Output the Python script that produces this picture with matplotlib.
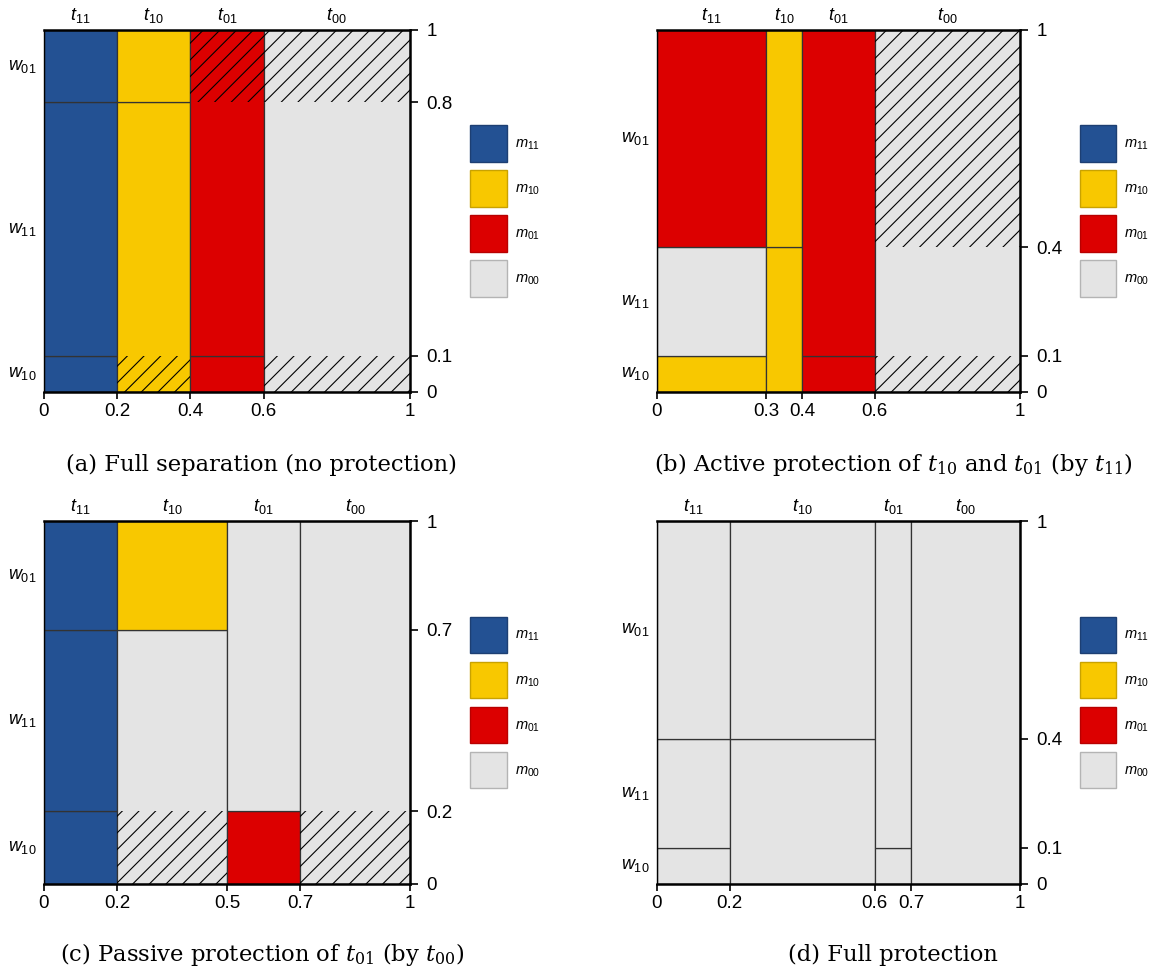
"""
Message/world partition diagrams for four protection scenarios
"""
import matplotlib
matplotlib.use("Agg")
import matplotlib.pyplot as plt
from matplotlib.patches import Patch
from matplotlib.transforms import blended_transform_factory

plt.rcParams["font.family"] = ["Liberation Sans", "DejaVu Sans"]
plt.rcParams["mathtext.fontset"] = "custom"
plt.rcParams["mathtext.it"] = "Liberation Sans:italic"
plt.rcParams["mathtext.rm"] = "Liberation Sans"
plt.rcParams["hatch.linewidth"] = 0.8

# message colours
COLORS = {"11": "#235193", "10": "#f8c800", "01": "#dc0000", "00": "#e4e4e4"}
EDGES = {"11": "#1d3f73", "10": "#c9a200", "01": "#b80000", "00": "#b4b4b4"}
TYPES = ["11", "10", "01", "00"]
WORLDS = ["10", "11", "01"]  # bottom to top

# (a) full separation
A_X = [0, 0.2, 0.4, 0.6, 1]
A_Y = [0, 0.1, 0.8, 1]
A_CELLS = [(0, 0, 0.1, "11"), (0, 0.1, 0.8, "11"), (0, 0.8, 1, "11"),
           (1, 0, 0.8, "10"), (1, 0.8, 1, "10"),
           (2, 0, 0.1, "01"), (2, 0.1, 1, "01"),
           (3, 0, 1, "00")]
A_HATCH = [(1, 0, 0.1), (2, 0.8, 1), (3, 0, 0.1), (3, 0.8, 1)]

# (b) active protection
B_X = [0, 0.3, 0.4, 0.6, 1]
B_Y = [0, 0.1, 0.4, 1]
B_CELLS = [(0, 0, 0.1, "10"), (0, 0.1, 0.4, "00"), (0, 0.4, 1, "01"),
           (1, 0, 0.4, "10"), (1, 0.4, 1, "10"),
           (2, 0, 0.1, "01"), (2, 0.1, 1, "01"),
           (3, 0, 1, "00")]
B_HATCH = [(3, 0, 0.1), (3, 0.4, 1)]

# (c) passive protection
C_X = [0, 0.2, 0.5, 0.7, 1]
C_Y = [0, 0.2, 0.7, 1]
C_CELLS = [(0, 0, 0.2, "11"), (0, 0.2, 0.7, "11"), (0, 0.7, 1, "11"),
           (1, 0, 0.7, "00"), (1, 0.7, 1, "10"),
           (2, 0, 0.2, "01"), (2, 0.2, 1, "00"),
           (3, 0, 1, "00")]
C_HATCH = [(1, 0, 0.2), (3, 0, 0.2)]

# (d) full protection
D_X = [0, 0.2, 0.6, 0.7, 1]
D_Y = [0, 0.1, 0.4, 1]
D_CELLS = [(0, 0, 0.1, "00"), (0, 0.1, 0.4, "00"), (0, 0.4, 1, "00"),
           (1, 0, 0.4, "00"), (1, 0.4, 1, "00"),
           (2, 0, 0.1, "00"), (2, 0.1, 1, "00"),
           (3, 0, 1, "00")]
D_HATCH = []

CAPTIONS = [
    "(a) Full separation (no protection)",
    "(b) Active protection of $t_{10}$ and $t_{01}$ (by $t_{11}$)",
    "(c) Passive protection of $t_{01}$ (by $t_{00}$)",
    "(d) Full protection",
]


def draw_panel(ax, xb, yb, cells, hatches):
    """
    Draws one partition panel with its labels and legend
    """
    for col, y0, y1, msg in cells:
        ax.bar(xb[col], y1 - y0, width=xb[col + 1] - xb[col], bottom=y0,
               align="edge", color=COLORS[msg], edgecolor="#333333",
               linewidth=0.9, zorder=1)
    for col, y0, y1 in hatches:
        ax.bar(xb[col], y1 - y0, width=xb[col + 1] - xb[col], bottom=y0,
               align="edge", color="none", edgecolor="black", linewidth=0,
               hatch="//", zorder=2)
    ax.set_xlim(0, 1)
    ax.set_ylim(0, 1)
    # axes ticks
    ax.set_xticks(xb)
    ax.set_xticklabels([f"{v:g}" for v in xb])
    ax.yaxis.tick_right()
    ax.set_yticks(yb)
    ax.set_yticklabels([f"{v:g}" for v in yb])
    ax.tick_params(axis="x", length=5, width=1.2, labelsize=13.5, pad=3)
    ax.tick_params(axis="y", length=6, width=1.2, labelsize=13.5, pad=6)
    for side in ["top", "bottom", "right"]:
        ax.spines[side].set_linewidth(1.8)
    ax.spines["left"].set_linewidth(1.0)
    for sp in ax.spines.values():
        sp.set_zorder(3)
    # column and row names
    top = blended_transform_factory(ax.transData, ax.transAxes)
    for i, t in enumerate(TYPES):
        ax.text((xb[i] + xb[i + 1]) / 2, 1.015, f"$t_{{{t}}}$", transform=top,
                ha="center", va="bottom", fontsize=13)
    left = blended_transform_factory(ax.transAxes, ax.transData)
    for i, w in enumerate(WORLDS):
        ax.text(-0.02, (yb[i] + yb[i + 1]) / 2, f"$w_{{{w}}}$", transform=left,
                ha="right", va="center", fontsize=13)
    handles = [Patch(facecolor=COLORS[m], edgecolor=EDGES[m], linewidth=1.0)
               for m in TYPES]
    ax.legend(handles, [f"$m_{{{m}}}$" for m in TYPES], loc="center left",
              bbox_to_anchor=(1.165, 0.5), frameon=False, fontsize=10.5,
              handlelength=2.5, handleheight=3.45, labelspacing=0.6,
              handletextpad=0.55, borderpad=0, borderaxespad=0)


fig = plt.figure(figsize=(11.63, 9.77), dpi=100)
positions = [
    [0.0378, 0.5988, 0.3147, 0.3705],
    [0.5649, 0.5988, 0.3121, 0.3705],
    [0.0378, 0.0952, 0.3147, 0.3715],
    [0.5649, 0.0952, 0.3121, 0.3715],
]
panels = [
    (A_X, A_Y, A_CELLS, A_HATCH),
    (B_X, B_Y, B_CELLS, B_HATCH),
    (C_X, C_Y, C_CELLS, C_HATCH),
    (D_X, D_Y, D_CELLS, D_HATCH),
]
caption_xy = [(0.225, 1 - 465 / 977), (0.768, 1 - 465 / 977),
              (0.225, 1 - 955 / 977), (0.768, 1 - 955 / 977)]
for pos, data, cap, cxy in zip(positions, panels, CAPTIONS, caption_xy):
    ax = fig.add_axes(pos)
    draw_panel(ax, *data)
    fig.text(cxy[0], cxy[1], cap, ha="center", va="center", fontsize=16.3,
             family="DejaVu Serif", math_fontfamily="dejavuserif")

fig.savefig("out.png", dpi=100)
